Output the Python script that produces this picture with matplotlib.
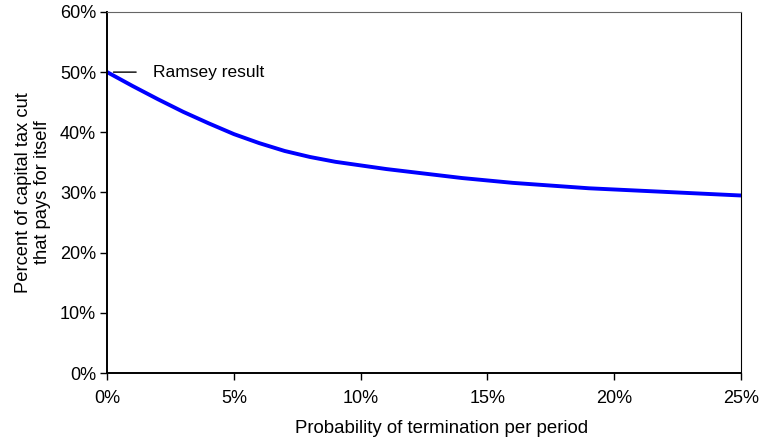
import numpy as np
import matplotlib.pyplot as plt
from matplotlib.ticker import FuncFormatter

plt.rcParams['font.family'] = ['Liberation Sans', 'DejaVu Sans']

# probability of termination per period (%)
prob = [0, 1, 2, 3, 4, 5, 6, 7, 8, 9, 10, 11, 12, 13, 14, 15, 16, 17, 18, 19, 20, 21, 22, 23, 24, 25]
# percent of capital tax cut that pays for itself (%)
pays = [50.0, 47.7, 45.5, 43.4, 41.5, 39.7, 38.2, 36.9, 35.9, 35.1, 34.5, 33.9, 33.4, 32.9,
        32.4, 32.0, 31.6, 31.3, 31.0, 30.7, 30.5, 30.3, 30.1, 29.9, 29.7, 29.5]

xticks = [0, 5, 10, 15, 20, 25]
yticks = [0, 10, 20, 30, 40, 50, 60]

fig = plt.figure(figsize=(7.6, 4.42), dpi=100)
ax = fig.add_axes([0.141, 0.156, 0.834, 0.817])

ax.plot(prob, pays, color='#0000ff', lw=2.8, solid_capstyle='butt', solid_joinstyle='round')

ax.set_xlim(0, 25)
ax.set_ylim(0, 60)
ax.set_xticks(xticks)
ax.set_yticks(yticks)
pct = FuncFormatter(lambda v, p: '%d%%' % v)
ax.xaxis.set_major_formatter(pct)
ax.yaxis.set_major_formatter(pct)
ax.tick_params(direction='out', length=5, width=1, labelsize=13, colors='black')
ax.tick_params(axis='x', pad=7)
ax.tick_params(axis='y', pad=3)

for s in ['left', 'bottom']:
    ax.spines[s].set_linewidth(1.4)
ax.spines['top'].set_color('#666666')
ax.spines['right'].set_color('black')

# annotation
ax.annotate('Ramsey result', xy=(0.25, 50), xytext=(1.8, 50),
            va='center', fontsize=12.5,
            arrowprops=dict(arrowstyle='-', color='black', lw=1, shrinkA=10, shrinkB=0))

ax.set_xlabel('Probability of termination per period', fontsize=13.4)
ax.xaxis.set_label_coords(0.527, -0.13)
ax.xaxis.label.set_va('top')
ax.set_ylabel('Percent of capital tax cut\nthat pays for itself', fontsize=13.2, labelpad=6)

fig.savefig('out.png', dpi=100)
